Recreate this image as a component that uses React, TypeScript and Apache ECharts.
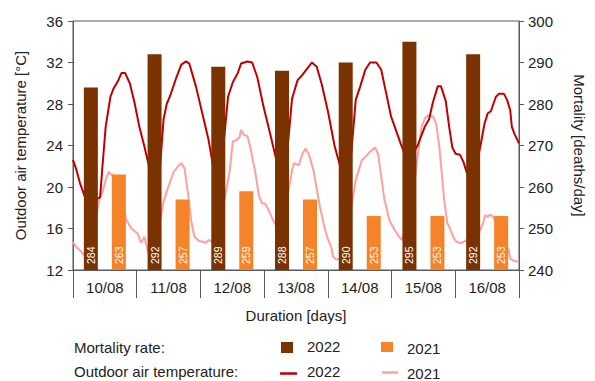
import React, { useEffect, useRef } from "react";
import * as echarts from "echarts";

const days = ["10/08", "11/08", "12/08", "13/08", "14/08", "15/08", "16/08"];
const mortality2022 = [284, 292, 289, 288, 290, 295, 292];
const mortality2021 = [263, 257, 259, 257, 253, 253, 253];

// hour since start of 10/08 view, temperature [°C]
const hours2022 = [0, 1.1, 2.6, 4.4, 6.9, 10.2, 11.1, 12.3, 14.1, 15.3, 17.1, 18.3, 19.6, 21.4, 23.2, 25.0, 26.9, 28.7, 30.2, 32.4, 34.1, 35.3, 36.6, 39.0, 40.8, 42.6, 43.8, 46.3, 48.7, 51.1, 52.9, 55.4, 58.4, 60.2, 62.1, 63.3, 65.7, 67.5, 69.4, 71.8, 74.2, 76.6, 79.8, 82.5, 84.6, 86.4, 88.2, 90.0, 91.8, 93.7, 96.1, 98.5, 100.3, 101.5, 103.9, 106.5, 108.2, 110.1, 111.9, 114.3, 116.1, 118.0, 119.8, 121.6, 123.4, 124.6, 127.2, 129.8, 132.5, 134.1, 135.6, 137.4, 138.6, 140.4, 141.7, 142.9, 144.1, 145.8, 147.1, 148.3, 150.9, 153.5, 155.0, 156.2, 157.4, 159.3, 160.5, 162.3, 163.5, 164.7, 165.3, 166.5, 168];
const temp2022 = [22.6, 21.8, 20.4, 19.1, 18.6, 19.0, 22.0, 25.8, 28.7, 29.5, 30.3, 31.0, 31.0, 30.0, 28.1, 25.8, 23.9, 21.9, 20.5, 20.6, 26.5, 28.0, 28.8, 30.6, 31.8, 32.1, 31.9, 29.7, 27.1, 24.5, 21.8, 20.5, 28.7, 30.1, 31.0, 31.9, 32.1, 32.0, 30.6, 27.7, 25.2, 22.6, 20.8, 28.5, 30.3, 30.8, 31.4, 32.0, 31.6, 29.9, 27.2, 24.0, 22.3, 21.3, 20.5, 28.4, 29.7, 31.3, 32.0, 32.0, 31.3, 29.0, 26.8, 25.5, 24.2, 23.4, 22.8, 24.0, 25.8, 26.5, 28.2, 29.7, 29.7, 28.3, 25.8, 23.8, 23.2, 23.1, 22.4, 21.4, 20.8, 24.0, 26.1, 27.1, 27.3, 28.7, 29.0, 29.0, 28.4, 27.4, 25.8, 25.0, 24.2];

const hours2021 = [0, 1.3, 2.6, 4.4, 8.0, 10.1, 11.0, 12.3, 13.5, 14.1, 14.7, 17.1, 20.2, 22.0, 24.4, 25.6, 26.9, 28.1, 28.7, 31.3, 34.1, 35.9, 37.8, 39.6, 40.8, 42.0, 43.3, 44.5, 45.7, 47.5, 49.3, 49.9, 51.1, 52.4, 55.8, 59.0, 60.2, 61.5, 62.7, 63.3, 64.5, 65.7, 66.9, 68.8, 70.0, 71.2, 72.4, 73.6, 75.4, 77.3, 79.8, 82.5, 83.3, 85.1, 86.4, 87.6, 88.8, 90.6, 93.0, 94.9, 96.1, 97.3, 97.9, 99.1, 100.3, 101.3, 103.9, 106.5, 107.6, 108.8, 110.1, 111.9, 113.7, 114.9, 116.1, 117.3, 119.2, 121.0, 122.8, 124.0, 127.2, 129.8, 131.3, 132.5, 133.7, 135.6, 136.8, 138.0, 139.8, 141.0, 142.2, 143.5, 144.7, 145.9, 147.1, 148.3, 150.9, 153.5, 154.4, 155.3, 156.2, 156.9, 158.1, 161.2, 164.1, 164.7, 165.9, 168];
const temp2021 = [14.7, 14.2, 13.9, 13.4, 16.0, 19.1, 19.4, 20.7, 21.5, 21.2, 21.2, 19.5, 16.8, 16.0, 15.5, 14.6, 15.2, 13.9, 13.5, 14.5, 18.6, 20.0, 21.4, 22.0, 22.3, 21.8, 19.4, 16.8, 15.2, 14.8, 14.7, 14.6, 14.9, 14.7, 17.0, 21.5, 24.4, 24.5, 24.8, 25.5, 25.0, 24.9, 23.7, 21.2, 19.2, 18.4, 18.4, 17.8, 16.8, 15.9, 17.5, 21.6, 22.3, 22.1, 23.2, 23.7, 23.2, 21.6, 18.1, 15.9, 14.9, 14.2, 13.3, 13.0, 13.1, 13.0, 16.5, 20.7, 21.6, 22.6, 22.9, 23.4, 23.8, 23.2, 21.0, 18.8, 16.8, 15.9, 15.2, 14.9, 18.0, 22.9, 25.8, 26.6, 26.9, 26.8, 26.1, 23.9, 18.8, 16.5, 15.9, 15.0, 14.7, 14.6, 14.7, 14.9, 15.3, 15.9, 16.5, 17.3, 17.1, 17.3, 17.2, 15.5, 13.9, 13.1, 12.9, 12.8];

const FONT = 'Arial, "Liberation Sans", sans-serif';
const TXT = "#222222";
const AX = "#595959";
const BROWN = "#7a3300";
const ORANGE = "#f5832a";
const RED = "#c00000";
const PINK = "#ff9f9f";

export default function App() {
  const ref = useRef<HTMLDivElement>(null);
  useEffect(() => {
    if (!ref.current) return;
    const chart = echarts.init(ref.current, null, { renderer: "svg" });
    const barLabel = {
      show: true,
      position: "insideBottom",
      rotate: 90,
      align: "left",
      verticalAlign: "middle",
      distance: 6,
      color: "#ffffff",
      fontSize: 10.5,
      fontFamily: FONT,
    };
    chart.setOption({
      animation: false,
      textStyle: { fontFamily: FONT },
      grid: { left: 73, right: 61, top: 21, bottom: 111, show: true, borderColor: AX, borderWidth: 1 },
      xAxis: [
        {
          type: "category",
          data: days,
          boundaryGap: true,
          axisLine: { lineStyle: { color: AX, width: 1 } },
          axisTick: { show: true, length: 28, interval: 0, lineStyle: { color: AX } },
          axisLabel: { fontSize: 15, color: TXT, margin: 10, fontFamily: FONT },
          name: "Duration [days]",
          nameLocation: "middle",
          nameGap: 38,
          nameTextStyle: { fontSize: 15, color: TXT, fontFamily: FONT },
          splitLine: { show: false },
        },
        {
          type: "value",
          min: 0,
          max: 168,
          show: false,
          splitLine: { show: false },
        },
      ],
      yAxis: [
        {
          type: "value",
          position: "left",
          min: 12,
          max: 36,
          interval: 4,
          axisLine: { show: true, lineStyle: { color: AX } },
          axisTick: { show: true, length: 5, lineStyle: { color: AX } },
          axisLabel: { fontSize: 15, color: TXT, margin: 10, fontFamily: FONT },
          splitLine: { show: false },
          name: "Outdoor air temperature [°C]",
          nameLocation: "middle",
          nameRotate: 90,
          nameGap: 45,
          nameTextStyle: { fontSize: 15, color: TXT, fontFamily: FONT },
        },
        {
          type: "value",
          position: "right",
          min: 240,
          max: 300,
          interval: 10,
          axisLine: { show: true, lineStyle: { color: AX } },
          axisTick: { show: true, length: 5, lineStyle: { color: AX } },
          axisLabel: { fontSize: 15, color: TXT, margin: 9, fontFamily: FONT },
          splitLine: { show: false },
          name: "Mortality [deaths/day]",
          nameLocation: "middle",
          nameRotate: -90,
          nameGap: 53,
          nameTextStyle: { fontSize: 15, color: TXT, fontFamily: FONT },
        },
      ],
      series: [
        {
          name: "T2021",
          type: "line",
          xAxisIndex: 1,
          yAxisIndex: 0,
          data: hours2021.map((h, i) => [h, temp2021[i]]),
          showSymbol: false,
          symbol: "none",
          lineStyle: { color: PINK, width: 2 },
          z: 1,
        },
        {
          name: "T2022",
          type: "line",
          xAxisIndex: 1,
          yAxisIndex: 0,
          data: hours2022.map((h, i) => [h, temp2022[i]]),
          showSymbol: false,
          symbol: "none",
          lineStyle: { color: RED, width: 2 },
          z: 2,
        },
        {
          name: "M2022",
          type: "bar",
          xAxisIndex: 0,
          yAxisIndex: 1,
          data: mortality2022,
          barWidth: 14,
          barGap: "100%",
          itemStyle: { color: BROWN },
          label: barLabel,
          z: 5,
        },
        {
          name: "M2021",
          type: "bar",
          xAxisIndex: 0,
          yAxisIndex: 1,
          data: mortality2021,
          barWidth: 14,
          barGap: "100%",
          itemStyle: { color: ORANGE },
          label: barLabel,
          z: 5,
        },
      ],
      graphic: [
        { type: "text", left: 74, top: 340, style: { text: "Mortality rate:", fontSize: 15, fill: TXT, fontFamily: FONT } },
        { type: "text", left: 74, top: 364, style: { text: "Outdoor air temperature:", fontSize: 15, fill: TXT, fontFamily: FONT } },
        { type: "rect", shape: { x: 281, y: 342, width: 12, height: 11 }, style: { fill: BROWN } },
        { type: "text", left: 307, top: 339, style: { text: "2022", fontSize: 15, fill: TXT, fontFamily: FONT } },
        { type: "rect", shape: { x: 381, y: 342, width: 12, height: 10 }, style: { fill: ORANGE } },
        { type: "text", left: 407, top: 341, style: { text: "2021", fontSize: 15, fill: TXT, fontFamily: FONT } },
        { type: "line", shape: { x1: 280, y1: 373.5, x2: 297, y2: 373.5 }, style: { stroke: RED, lineWidth: 2.5 } },
        { type: "text", left: 307, top: 364, style: { text: "2022", fontSize: 15, fill: TXT, fontFamily: FONT } },
        { type: "line", shape: { x1: 382, y1: 372.5, x2: 398, y2: 372.5 }, style: { stroke: PINK, lineWidth: 2.5 } },
        { type: "text", left: 407, top: 366, style: { text: "2021", fontSize: 15, fill: TXT, fontFamily: FONT } },
      ],
    });
    return () => chart.dispose();
  }, []);
  return (
    <div
      ref={ref}
      style={{ position: "fixed", left: 0, top: 0, width: 595, height: 381, background: "#ffffff" }}
    />
  );
}
